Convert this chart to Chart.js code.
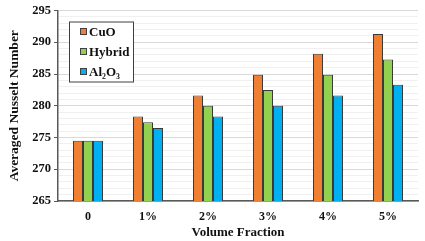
<!DOCTYPE html>
<html>
<head>
<meta charset="utf-8">
<script src="https://cdn.jsdelivr.net/npm/chart.js@4"></script>
<style>
  html, body { margin: 0; padding: 0; background: #fff; }
  #wrap { width: 425px; height: 241px; }
</style>
</head>
<body>
<div id="wrap"><canvas id="myChart"></canvas></div>
<script>
// values
const fractions = ['0', '1%', '2%', '3%', '4%', '5%'];
const cuo = [274.5, 278.3, 281.6, 284.9, 288.2, 291.3];
const hybrid = [274.5, 277.4, 280.0, 282.5, 284.9, 287.3];
const alumina = [274.5, 276.5, 278.3, 280.0, 281.6, 283.3];
const serif = '"Liberation Serif", "Times New Roman", serif';

// boxed legend in the top-left corner of the plot
const boxLegend = {
    id: 'boxLegend',
    afterDraw(chart) {
        const ctx = chart.ctx;
        const area = chart.chartArea;
        const x = area.left + 11, y = area.top + 11;
        const w = 64, h = 60;
        ctx.save();
        ctx.fillStyle = '#fff';
        ctx.fillRect(x, y, w, h);
        ctx.strokeStyle = '#404040';
        ctx.lineWidth = 1;
        ctx.strokeRect(x + 0.5, y + 0.5, w, h);
        ctx.font = 'bold 13px ' + serif;
        ctx.textBaseline = 'middle';
        chart.data.datasets.forEach(function(ds, i) {
            const cy = y + 10 + i * 20;
            ctx.fillStyle = ds.backgroundColor;
            ctx.fillRect(x + 11, cy - 3.5, 7, 7);
            ctx.strokeStyle = '#404040';
            ctx.strokeRect(x + 11.5, cy - 3, 6, 6);
            ctx.fillStyle = '#111';
            ctx.fillText(ds.label, x + 20, cy + 1);
        });
        ctx.restore();
    }
};

const ctx = document.getElementById('myChart');
const myChart = new Chart(ctx, {
    type: 'bar',
    data: {
        labels: fractions,
        datasets: [
            { label: 'CuO', data: cuo, backgroundColor: '#F07F32' },
            { label: 'Hybrid', data: hybrid, backgroundColor: '#92D050' },
            { label: 'Al\u2082O\u2083', data: alumina, backgroundColor: '#00B0F0' }
        ]
    },
    options: {
        responsive: true,
        maintainAspectRatio: false,
        animation: false,
        layout: { padding: { top: 7, right: 7, left: 0, bottom: 0 } },
        datasets: {
            bar: {
                borderColor: '#3a3a3a',
                borderWidth: 1,
                categoryPercentage: 0.5,
                barPercentage: 1
            }
        },
        plugins: {
            legend: { display: false },
            tooltip: { enabled: false }
        },
        scales: {
            x: {
                afterFit: function(scale) { scale.height = 40; },
                grid: { display: false },
                border: { color: '#595959', width: 1.5 },
                ticks: { color: '#111', font: { family: serif, size: 12, weight: 'bold' }, padding: 1 },
                title: {
                    display: true,
                    text: 'Volume Fraction',
                    color: '#111',
                    font: { family: serif, size: 13, weight: 'bold' },
                    padding: { top: 0, bottom: 1 }
                }
            },
            y: {
                min: 265,
                max: 295,
                afterFit: function(scale) { scale.width = 58; },
                border: { color: '#595959', width: 1.5 },
                grid: {
                    tickLength: 4,
                    color: function(c) { return c.tick.value % 5 === 0 ? '#d9d9d9' : '#f0f0f0'; },
                    tickColor: function(c) { return c.tick.value % 5 === 0 ? '#595959' : 'rgba(0,0,0,0)'; }
                },
                ticks: {
                    stepSize: 1,
                    maxTicksLimit: 40,
                    autoSkip: false,
                    color: '#111',
                    padding: 3,
                    font: { family: serif, size: 12.5, weight: 'bold' },
                    callback: function(v) { return v % 5 === 0 ? v : ''; }
                },
                title: {
                    display: true,
                    text: 'Averaged Nusselt Number',
                    color: '#111',
                    font: { family: serif, size: 13.5, weight: 'bold' },
                    padding: { top: 6, bottom: 0 }
                }
            }
        }
    },
    plugins: [boxLegend]
});
</script>
</body>
</html>
